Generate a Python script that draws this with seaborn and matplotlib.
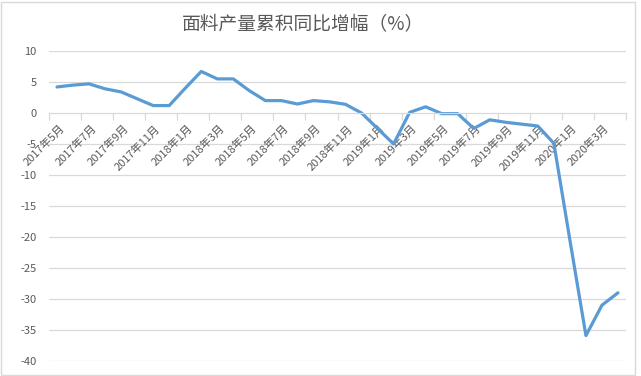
import pandas as pd
import seaborn as sns
import matplotlib.pyplot as plt
import matplotlib.transforms as mtransforms
from matplotlib.patches import Rectangle
import numpy as np

sns.set_theme(style="white")
plt.rcParams['font.family'] = ['Noto Sans CJK SC', 'DejaVu Sans']

# months 2017-05 .. 2020-04
months = ["2017年5月", "2017年6月", "2017年7月", "2017年8月", "2017年9月", "2017年10月",
          "2017年11月", "2017年12月", "2018年1月", "2018年2月", "2018年3月", "2018年4月",
          "2018年5月", "2018年6月", "2018年7月", "2018年8月", "2018年9月", "2018年10月",
          "2018年11月", "2018年12月", "2019年1月", "2019年2月", "2019年3月", "2019年4月",
          "2019年5月", "2019年6月", "2019年7月", "2019年8月", "2019年9月", "2019年10月",
          "2019年11月", "2019年12月", "2020年1月", "2020年2月", "2020年3月", "2020年4月"]
growth = [4.2, 4.5, 4.7, 3.9, 3.4, 2.3,
          1.2, 1.2, 4.0, 6.7, 5.5, 5.5,
          3.6, 2.0, 2.0, 1.45, 2.0, 1.8,
          1.4, 0.0, -2.5, -5.0, 0.1, 1.0,
          -0.1, -0.1, -2.5, -1.1, -1.5, -1.8,
          -2.1, -4.9, -20.5, -35.9, -31.0, -29.0]
yticks = [10, 5, 0, -5, -10, -15, -20, -25, -30, -35, -40]

df = pd.DataFrame({"月份": months, "增幅": growth})
df["pos"] = np.arange(len(df))

text_c = "#595959"
grid_c = "#D9D9D9"

W, H = 641, 376
fig = plt.figure(figsize=(W / 100, H / 100), dpi=100)
ax = fig.add_axes([49 / W, 1 - 361 / H, (626 - 49) / W, (361 - 51) / H])

sns.lineplot(data=df, x="pos", y="增幅", ax=ax, color="#5B9BD5", linewidth=2.3, sort=False)

ax.set_xlim(-0.5, len(months) - 0.5)
ax.set_ylim(-40, 10)
ax.set_yticks(yticks)
ax.set_yticklabels([str(v) for v in yticks], color=text_c, fontsize=8)
ax.tick_params(axis="y", length=0, pad=9)
for v in yticks:
    if v != 0:
        ax.axhline(v, color=grid_c, lw=0.9, zorder=0)

for s in ["top", "right", "left"]:
    ax.spines[s].set_visible(False)
ax.spines["bottom"].set_position(("data", 0))
ax.spines["bottom"].set_color(grid_c)
ax.spines["bottom"].set_linewidth(0.9)

# labels every second month, tick marks at category boundaries
ax.set_xticks(df["pos"][::2], df["月份"][::2])
ax.set_xticks(np.arange(-0.5, len(months), 2), minor=True)
ax.tick_params(axis="x", which="major", length=0, pad=10, labelsize=8, labelcolor=text_c)
ax.tick_params(axis="x", which="minor", length=5, width=0.9, color=grid_c, direction="out", bottom=True)
offset = mtransforms.ScaledTranslation(4 / 72, 0, fig.dpi_scale_trans)
for lbl in ax.get_xticklabels():
    lbl.set_rotation(45)
    lbl.set_rotation_mode("anchor")
    lbl.set_ha("right")
    lbl.set_va("center")
    lbl.set_transform(lbl.get_transform() + offset)
ax.set_xlabel("")
ax.set_ylabel("")

fig.text(303 / W, 1 - 25 / H, "面料产量累积同比增幅（%）", ha="center", va="center",
         fontsize=13.5, color=text_c)
fig.patches.append(Rectangle((0.5 / W, 1.5 / H), 634 / W, 373 / H, transform=fig.transFigure,
                             fill=False, edgecolor="#D9D9D9", lw=1))

fig.savefig("out.png", dpi=100)
